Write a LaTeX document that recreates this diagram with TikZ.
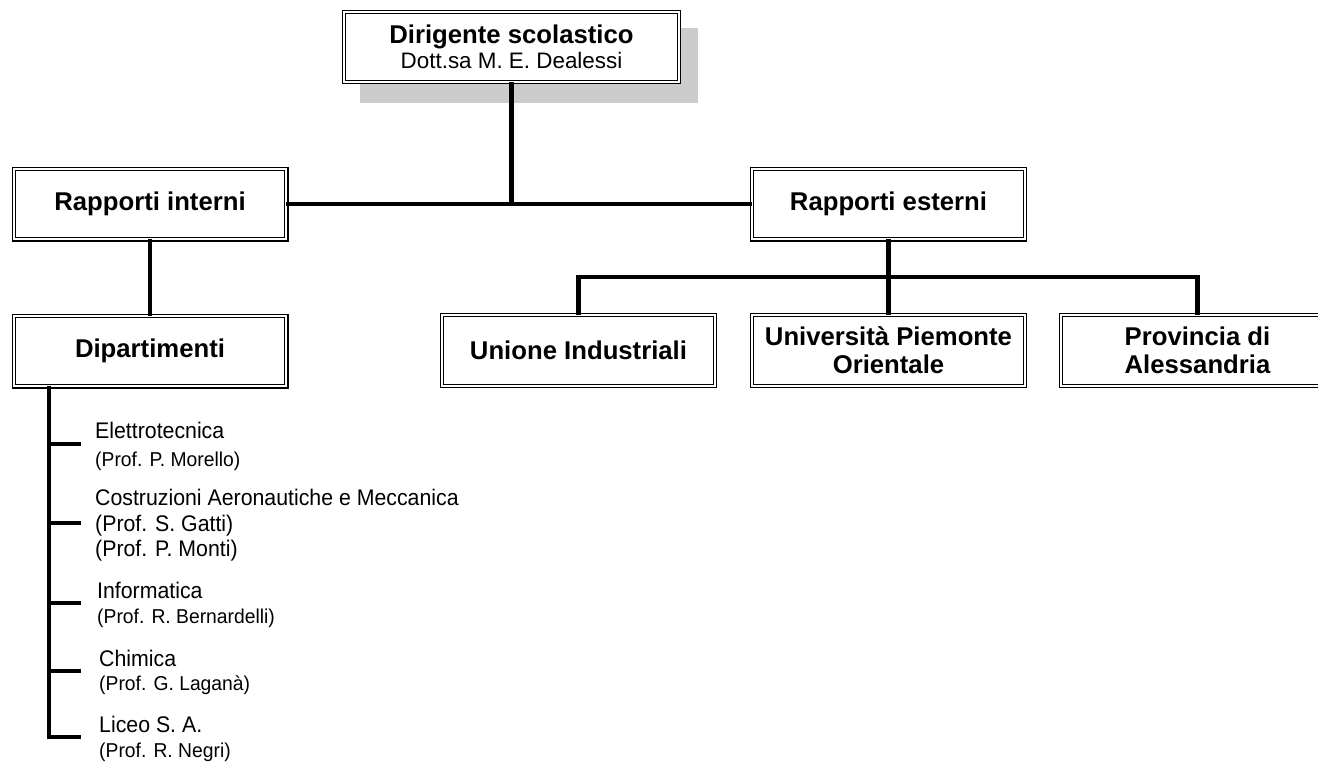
\documentclass[tikz,border=0pt]{standalone}
\usepackage{fontspec}
\setmainfont{Liberation Sans}
\definecolor{shadowgray}{HTML}{CCCCCC}
\begin{document}
\begin{tikzpicture}[x=1pt,y=-1pt,
  box/.style={draw=black, line width=1.1pt, double=white, double distance=2.2pt,
    fill=white, inner sep=0pt, outer sep=0pt, align=center,
    minimum width=272.6pt, minimum height=70.6pt,
    font=\fontsize{25.7}{28}\selectfont\bfseries},
  conn/.style={line width=4.8pt},
  item/.style={anchor=base west, inner sep=0pt, yscale=1.06, transform shape,
    font=\fontsize{21.3}{24}\selectfont},
  sub/.style={anchor=base west, inner sep=0pt, yscale=1.04, transform shape,
    font=\fontsize{19.3}{22}\selectfont}]
\clip (0,0) rectangle (1318,764);
% shadow of the top box
\fill[shadowgray] (360,28) rectangle (698,103);
% boxes
\node[box, minimum width=334.6pt, minimum height=69.6pt] (top) at (511.5,47)
  {Dirigente scolastico\\[-2.5pt]{\fontsize{22.4}{26}\selectfont\mdseries Dott.sa M. E. Dealessi}};
\node[box] (ri) at (150,204) {Rapporti interni};
\node[box] (re) at (888.5,204) {Rapporti esterni};
\node[box] (dip) at (150,351) {Dipartimenti};
\node[box] (ui) at (578.5,350.5) {Unione Industriali};
\node[box] (uni) at (888.5,350.5) {Università Piemonte\\Orientale};
\node[box] (prov) at (1197.5,350.5) {Provincia di\\Alessandria};
% connectors
\coordinate (bus) at (888.5,277);
\draw[conn] (top.south) -- (top.south |- ri.east);
\draw[conn] (ri.east) -- (re.west);
\draw[conn] (ri.south) -- (dip.north);
\draw[conn] (re.south) -- (uni.north);
\draw[conn] (ui.north) -- (ui.north |- bus) -- (prov.north |- bus) -- (prov.north);
% department list
\coordinate (lb) at (49,737);
\coordinate (t1) at (81,444);
\coordinate (t2) at (81,523);
\coordinate (t3) at (81,603);
\coordinate (t4) at (81,671);
\coordinate (t5) at (81,737);
\draw[conn] (lb |- dip.south) -- (lb) -- (t5);
\draw[conn] (lb |- t1) -- (t1);
\draw[conn] (lb |- t2) -- (t2);
\draw[conn] (lb |- t3) -- (t3);
\draw[conn] (lb |- t4) -- (t4);
\node[item] (e1) at (95,438) {Elettrotecnica};
\node[sub]  (e2) at (95,466) {(Prof. P. Morello)};
\node[item] (c1) at (95,505) {Costruzioni Aeronautiche e Meccanica};
\node[item] (c2) at (95,531) {(Prof. S. Gatti)};
\node[item] (c3) at (95,556) {(Prof. P. Monti)};
\node[item] (i1) at (97,598) {Informatica};
\node[sub]  (i2) at (97,623) {(Prof. R. Bernardelli)};
\node[item] (h1) at (99,666) {Chimica};
\node[sub]  (h2) at (99,690) {(Prof. G. Laganà)};
\node[item] (l1) at (99,732) {Liceo S. A.};
\node[sub]  (l2) at (99,757) {(Prof. R. Negri)};
\end{tikzpicture}
\end{document}
